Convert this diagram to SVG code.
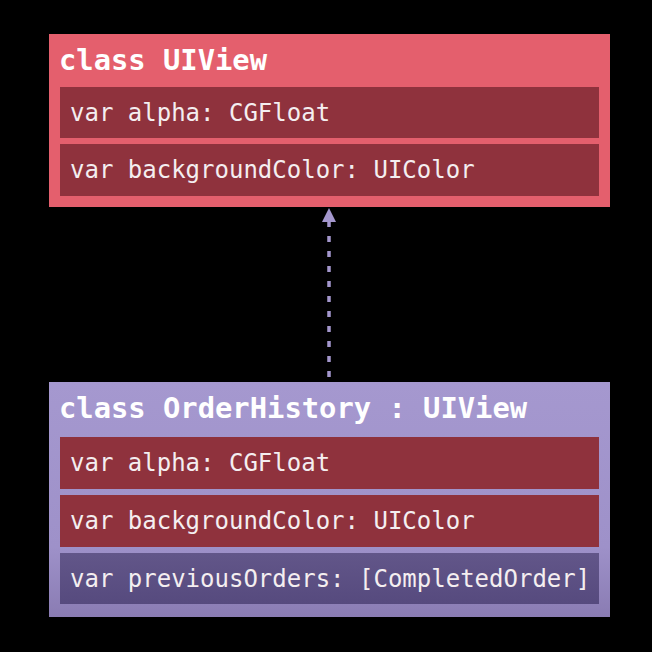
<svg xmlns="http://www.w3.org/2000/svg" width="652" height="652" viewBox="0 0 652 652">
<style>
.hdr{font-family:"DejaVu Sans Mono","Liberation Mono",monospace;font-weight:bold;font-size:28.8px;fill:#ffffff}
.fld{font-family:"DejaVu Sans Mono","Liberation Mono",monospace;font-size:24px;fill:#f4eef0}
.red{fill:#8f323d}
</style>
<defs>
<linearGradient id="pg" x1="0" y1="0" x2="0" y2="1">
<stop offset="0" stop-color="#a598cf"/>
<stop offset="0.7" stop-color="#9e91c9"/>
<stop offset="1" stop-color="#8a7cb3"/>
</linearGradient>
<linearGradient id="dg" x1="0" y1="0" x2="0" y2="1">
<stop offset="0" stop-color="#625689"/>
<stop offset="1" stop-color="#564a7e"/>
</linearGradient>
</defs>
<rect width="652" height="652" fill="#000"/>
<g id="connectors">
<line x1="329" y1="377" x2="329" y2="222" stroke="#a497cd" stroke-width="3.5" stroke-dasharray="6 9"/>
<path d="M322 222 L329 208 L336 222 Z" fill="#a497cd"/>
</g>
<g id="uiview">
<rect x="49" y="34" width="561" height="173" fill="#e45f6d"/>
<text class="hdr" x="59" y="70">class UIView</text>
<rect class="red" x="60" y="87" width="539" height="51"/>
<text class="fld" x="70" y="121">var alpha: CGFloat</text>
<rect class="red" x="60" y="144" width="539" height="52"/>
<text class="fld" x="70" y="178">var backgroundColor: UIColor</text>
</g>
<g id="orderhistory">
<rect x="49" y="382" width="561" height="235" fill="url(#pg)"/>
<text class="hdr" x="59" y="418">class OrderHistory : UIView</text>
<rect class="red" x="60" y="437" width="539" height="52"/>
<text class="fld" x="70" y="471">var alpha: CGFloat</text>
<rect class="red" x="60" y="495" width="539" height="52"/>
<text class="fld" x="70" y="529">var backgroundColor: UIColor</text>
<rect x="60" y="553" width="539" height="51" fill="url(#dg)"/>
<text class="fld" x="70" y="587">var previousOrders: [CompletedOrder]</text>
</g>
</svg>
